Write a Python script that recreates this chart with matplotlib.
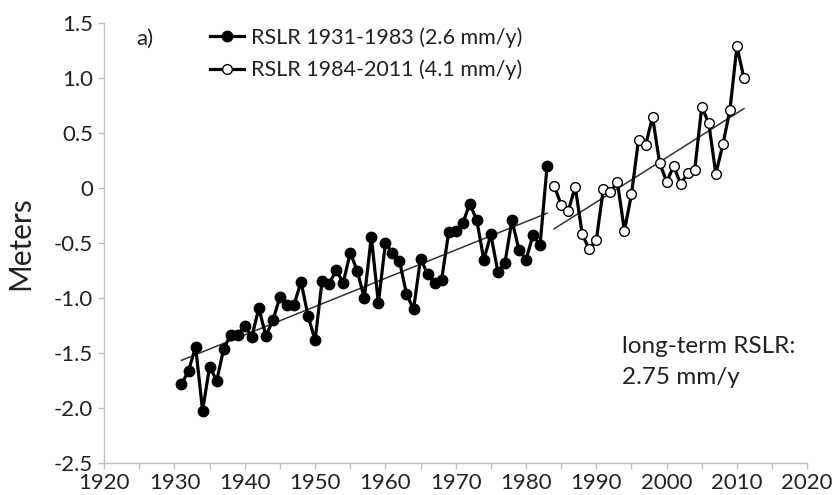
import numpy as np
import matplotlib
matplotlib.use("Agg")
import matplotlib.pyplot as plt
from matplotlib.lines import Line2D

plt.rcParams['font.family'] = ['Lato', 'DejaVu Sans']

years_early = list(range(1931, 1984))
rslr_early = [-1.78, -1.66, -1.44, -2.02, -1.62, -1.75, -1.46, -1.33, -1.33, -1.25,
              -1.35, -1.09, -1.34, -1.20, -0.99, -1.06, -1.06, -0.85, -1.16, -1.38,
              -0.84, -0.87, -0.74, -0.86, -0.585, -0.75, -1.00, -0.44, -1.045, -0.50,
              -0.585, -0.66, -0.96, -1.10, -0.64, -0.78, -0.86, -0.83, -0.40, -0.385,
              -0.32, -0.14, -0.29, -0.65, -0.42, -0.76, -0.68, -0.29, -0.56, -0.65,
              -0.425, -0.515, 0.205]

years_late = list(range(1984, 2012))
rslr_late = [0.024, -0.15, -0.21, 0.015, -0.42, -0.555, -0.47, -0.006, -0.03, 0.055,
             -0.385, -0.055, 0.44, 0.39, 0.65, 0.23, 0.06, 0.20, 0.04, 0.135,
             0.17, 0.74, 0.59, 0.13, 0.40, 0.71, 1.29, 1.00]

label_early = "RSLR 1931-1983 (2.6 mm/y)"
label_late = "RSLR 1984-2011 (4.1 mm/y)"
x_ticks = list(range(1920, 2021, 10))
y_ticks = [1.5, 1.0, 0.5, 0, -0.5, -1.0, -1.5, -2.0, -2.5]
y_ticklabels = ["1.5", "1.0", "0.5", "0", "-0.5", "-1.0", "-1.5", "-2.0", "-2.5"]

fig = plt.figure(figsize=(8.4, 4.95), dpi=100)
ax = fig.add_axes([0.124, 0.064, 0.837, 0.889])

# trend lines (least squares fit to each segment)
for yrs, vals in ((years_early, rslr_early), (years_late, rslr_late)):
    yrs_a = np.array(yrs, dtype=float)
    p = np.polyfit(yrs_a, np.array(vals), 1)
    ax.plot(yrs_a[[0, -1]], np.polyval(p, yrs_a[[0, -1]]), color='#333333', lw=1.1, zorder=2)

ax.plot(years_early, rslr_early, color='black', lw=2.3, marker='o', ms=7.5,
        mfc='black', mec='black', zorder=3)
ax.plot(years_late, rslr_late, color='black', lw=2.3, marker='o', ms=7,
        mfc='white', mec='black', mew=1.0, zorder=3)

ax.set_xlim(1920, 2020)
ax.set_ylim(-2.5, 1.5)
ax.set_xticks(x_ticks)
ax.set_xticks(list(range(1925, 2020, 10)), minor=True)
ax.set_yticks(y_ticks)
ax.set_yticklabels(y_ticklabels)

for s in ('top', 'right'):
    ax.spines[s].set_visible(False)
for s in ('left', 'bottom'):
    ax.spines[s].set_color('#bfbfbf')
    ax.spines[s].set_linewidth(1.0)
ax.tick_params(which='both', direction='out', length=4, color='#bfbfbf', width=1.0,
               labelsize=16, labelcolor='#222222')
ax.tick_params(axis='x', pad=3)
ax.tick_params(axis='y', pad=4)

ax.set_ylabel("Meters", fontsize=21.5, color='#222222', labelpad=14)

ax.text(1924.5, 1.36, "a)", fontsize=16, color='#222222', ha='left', va='center')

handles = [Line2D([0], [0], color='black', lw=2.3, marker='o', ms=7.5, mfc='black', mec='black'),
           Line2D([0], [0], color='black', lw=2.3, marker='o', ms=7, mfc='white', mec='black', mew=1.0)]
leg = ax.legend(handles, [label_early, label_late], loc='upper left',
                bbox_to_anchor=(0.25, 0.65, 0.5, 0.295), bbox_transform=fig.transFigure,
                frameon=False, fontsize=15.5, handlelength=1.6, handletextpad=0.3,
                labelspacing=0.55, borderaxespad=0, borderpad=0)
for t in leg.get_texts():
    t.set_color('#222222')

ax.text(1993.7, -1.58, "long-term RSLR:\n2.75 mm/y", fontsize=17.5, color='#222222',
        ha='left', va='center', linespacing=1.6)

fig.savefig("out.png", dpi=100)
